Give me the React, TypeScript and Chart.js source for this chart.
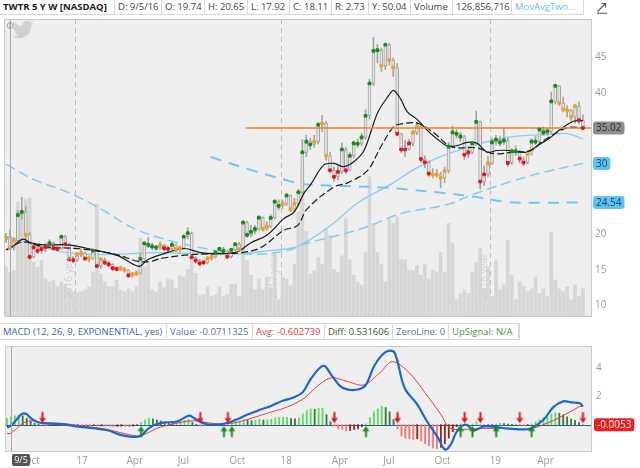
import React, { useEffect, useRef } from 'react';
import { Chart, registerables } from 'chart.js';

Chart.register(...registerables);
Chart.defaults.font.family = "'Open Sans', 'DejaVu Sans', sans-serif";

// ---- weekly candles (week 0 = 8/29/16) ----
const closes = [
  19.56, 18.11, 19.15, 22.76, 23.2, 20.0, 16.86, 18.19, 17.73, 17.96,
  18.27, 18.82, 18.09, 17.96, 19.7, 18.64, 16.5, 16.4, 17.18, 17.4,
  16.63, 16.63, 17.73, 15.58, 16.5, 16.04, 15.8, 15.27, 15.13, 15.27,
  15.03, 14.25, 14.39, 14.53, 16.58, 18.78, 18.55, 18.32, 18.18, 18.5,
  18.09, 18.0, 18.55, 17.96, 18.09, 19.7, 20.2, 16.8, 16.35, 15.94,
  16.08, 16.63, 16.86, 17.45, 18.0, 17.68, 16.9, 17.86, 18.64, 17.91,
  21.7, 19.96, 20.4, 20.8, 22.39, 20.8, 21.16, 22.35, 24.64, 24.04,
  24.3, 25.5, 23.58, 24.35, 25.97, 31.6, 33.1, 32.7, 33.1, 35.47,
  35.7, 31.1, 29.07, 28.15, 28.84, 32.0, 29.07, 31.1, 32.85, 32.8,
  33.7, 36.75, 41.3, 45.9, 46.0, 43.8, 46.76, 44.6, 43.56, 34.2,
  32.0, 32.0, 32.85, 34.4, 35.24, 30.65, 30.2, 28.6, 28.47, 28.47,
  28.0, 28.98, 32.4, 34.4, 34.2, 33.8, 31.26, 31.6, 32.85, 35.9,
  27.47, 28.5, 30.03, 33.0, 33.4, 33.0, 33.27, 30.1, 31.74, 31.74,
  30.7, 30.16, 31.35, 33.1, 33.1, 34.8, 34.4, 34.55, 38.77, 40.96,
  38.57, 37.67, 37.5, 36.6, 38.1, 36.15, 35.02,
];
const opens = [
  19.3, 19.74, 18.11, 19.15, 22.76, 23.2, 20.0, 16.86, 18.19, 17.73,
  17.96, 18.27, 18.82, 18.09, 17.96, 19.7, 18.64, 16.5, 16.4, 17.18,
  17.4, 16.63, 16.63, 17.73, 15.58, 16.5, 16.04, 15.8, 15.27, 15.13,
  15.27, 15.03, 14.25, 14.39, 14.53, 16.58, 18.78, 18.55, 18.32, 18.18,
  18.5, 18.09, 18.0, 18.55, 17.96, 18.09, 19.7, 20.2, 16.8, 16.35,
  15.94, 16.08, 16.63, 16.86, 17.45, 18.0, 17.68, 16.9, 17.86, 18.64,
  17.91, 21.7, 19.96, 20.4, 20.8, 22.39, 20.8, 21.16, 22.35, 24.64,
  24.04, 24.3, 25.5, 23.58, 24.35, 25.97, 31.6, 33.1, 32.7, 33.1,
  35.47, 35.7, 31.1, 29.07, 28.15, 28.84, 32.0, 29.07, 31.1, 32.85,
  32.8, 33.7, 36.75, 41.3, 45.9, 46.0, 43.8, 46.76, 44.6, 43.56,
  34.2, 32.0, 32.0, 32.85, 34.4, 35.24, 30.65, 30.2, 28.6, 28.47,
  28.47, 28.0, 28.98, 32.4, 34.4, 34.2, 33.8, 31.26, 31.6, 32.85,
  35.9, 27.47, 28.5, 30.03, 33.0, 33.4, 33.0, 33.27, 30.1, 31.74,
  31.74, 30.7, 30.16, 31.35, 33.1, 33.1, 34.8, 34.4, 34.55, 38.77,
  40.96, 38.57, 37.67, 37.5, 36.6, 38.1, 36.15,
];
const highs = [
  20.2, 20.65, 19.6, 23.4, 25.25, 24.0, 20.3, 18.6, 18.5, 18.4,
  18.8, 19.3, 19.0, 18.5, 19.9, 19.9, 18.8, 16.9, 17.5, 17.9,
  17.6, 17.0, 18.0, 17.9, 16.8, 16.7, 16.3, 15.9, 15.5, 15.6,
  15.4, 15.1, 14.7, 14.9, 17.3, 18.9, 19.6, 18.8, 18.5, 19.0,
  18.6, 18.4, 18.9, 18.7, 18.4, 20.0, 21.0, 20.4, 16.9, 16.5,
  16.3, 16.9, 17.2, 17.7, 18.1, 18.2, 17.8, 18.0, 18.9, 18.9,
  22.0, 21.9, 21.3, 21.3, 22.6, 22.5, 21.8, 22.8, 24.9, 24.9,
  24.8, 25.8, 25.6, 25.1, 26.4, 33.4, 34.0, 33.6, 34.0, 35.8,
  36.8, 36.0, 31.6, 29.6, 29.7, 32.9, 32.3, 31.6, 33.2, 33.5,
  34.3, 37.6, 41.9, 47.8, 46.8, 46.3, 47.0, 47.0, 44.9, 44.1,
  34.3, 33.3, 33.4, 34.7, 35.9, 35.5, 31.1, 30.4, 29.3, 29.2,
  28.8, 29.5, 33.0, 35.3, 34.8, 34.4, 34.0, 32.4, 33.1, 37.4,
  36.0, 29.7, 31.0, 33.6, 34.0, 33.9, 35.0, 33.6, 32.1, 32.5,
  31.9, 31.0, 31.7, 33.5, 33.9, 35.0, 35.2, 35.0, 40.1, 41.0,
  41.0, 39.4, 38.2, 37.7, 38.4, 38.7, 36.9,
];
const lows = [
  18.9, 17.92, 17.8, 19.0, 22.2, 19.4, 16.5, 16.7, 17.3, 17.4,
  17.6, 18.0, 17.8, 17.7, 17.9, 18.4, 16.3, 16.0, 16.2, 16.9,
  16.4, 16.2, 16.5, 15.4, 15.3, 15.8, 15.5, 14.9, 14.9, 14.9,
  14.7, 14.0, 14.0, 14.2, 14.5, 16.4, 18.2, 17.9, 17.8, 17.9,
  17.7, 17.6, 17.8, 17.6, 17.5, 18.0, 19.4, 16.6, 16.0, 15.7,
  15.7, 15.9, 16.4, 16.7, 17.2, 17.4, 16.6, 16.7, 17.7, 17.6,
  17.8, 19.6, 19.7, 20.1, 20.6, 20.5, 20.6, 21.0, 22.2, 23.5,
  23.7, 24.1, 23.2, 23.3, 24.0, 25.8, 31.0, 32.0, 32.3, 32.8,
  34.5, 30.5, 28.7, 27.5, 27.7, 28.6, 28.6, 29.0, 30.8, 32.3,
  32.5, 33.4, 36.3, 41.0, 44.2, 43.0, 43.3, 43.9, 42.3, 33.9,
  31.6, 31.0, 31.9, 32.5, 34.1, 30.2, 29.4, 28.2, 28.0, 28.1,
  26.6, 27.3, 28.7, 32.2, 33.6, 33.1, 30.6, 30.8, 31.4, 32.6,
  26.4, 26.9, 28.2, 29.9, 32.6, 32.5, 32.7, 29.6, 29.9, 31.2,
  30.1, 29.7, 30.0, 31.2, 32.7, 32.9, 34.0, 34.0, 34.3, 38.4,
  38.2, 37.3, 36.6, 36.1, 35.7, 35.6, 34.8,
];
// millions of shares
const volumes = [
  143, 127, 134, 330, 297, 339, 342, 157, 143, 162,
  110, 101, 106, 87, 101, 92, 81, 73, 70, 73,
  78, 87, 129, 325, 123, 101, 87, 87, 106, 78,
  73, 81, 73, 87, 227, 143, 157, 78, 73, 101,
  84, 109, 106, 81, 118, 115, 137, 188, 126, 62,
  64, 87, 59, 64, 87, 59, 64, 95, 95, 59,
  190, 162, 120, 78, 109, 78, 115, 84, 185, 50,
  115, 109, 90, 151, 302, 428, 246, 123, 134, 171,
  151, 255, 235, 137, 129, 176, 283, 165, 120, 101,
  92, 185, 403, 269, 185, 151, 101, 283, 269, 288,
  165, 165, 134, 134, 148, 120, 151, 109, 134, 129,
  185, 129, 269, 213, 50, 67, 78, 67, 129, 157,
  199, 81, 143, 59, 162, 78, 92, 221, 120, 50,
  101, 87, 73, 81, 115, 67, 81, 59, 244, 106,
  81, 73, 87, 50, 92, 59, 81,
];
// close-dot signal colour per week: G green, O orange, R red
const dotCodes = (
  'OOOGGORRRR' + 'RGRRGRRROO' + 'ROGRORRRRO' + 'OROOGGGGGO' + 'RRGOOGGRRR' +
  'ROOGGGRGGO' + 'GGGGGOOGGG' + 'OGOOGGGGOG' + 'OORRRGRGGG' + 'GGGGGOGOOR' +
  'RRROORRROO' + 'OOGGGGRRGG' + 'RROGGGGRGG' + 'RROGGGGGGG' + 'OOOOORR'
).split('');

// ---- moving averages, read at key weeks ----
const ma50Weeks = [0, 7, 15.6, 24, 39, 49, 59.4, 66, 72.8, 74.6, 77.8, 82.9, 89, 98, 103, 110, 118.3, 126.8, 137.7, 142, 146];
const ma50Values = [19.8, 18.6, 17.45, 17.2, 17.45, 17.3, 17.3, 17.7, 18.15, 18.55, 19.6, 21.6, 24.45, 27.3, 29.1, 31.0, 32.55, 33.7, 34.15, 34.24, 33.5];
const ma100Weeks = [0, 7.1, 15.7, 24, 32.3, 40.9, 49.3, 57.6, 64.4, 72, 74.6, 82.9, 91.4, 99.8, 112, 118.3, 126.8, 135.2, 146];
const ma100Values = [29.93, 27.75, 25.96, 23.63, 20.88, 19.24, 18.14, 17.45, 17.25, 17.86, 18.55, 19.74, 21.1, 22.94, 24.3, 25.7, 27.3, 28.67, 30.04];
const ma200Weeks = [51.8, 61.9, 72, 74.6, 80, 87.2, 97.3, 101.5, 110, 120, 126.8, 136, 146];
const ma200Values = [30.94, 29.12, 27.51, 27.16, 26.95, 26.83, 26.6, 26.37, 25.92, 25.23, 24.6, 24.5, 24.54];
const fastWeeks = [0, 1.3, 4.3, 6.3, 9.6, 15.7, 22.2, 28.3, 33.6, 35.9, 39.2, 45, 49.3, 53.5, 58.6, 61.9, 66.1, 70.3, 72.9, 75.5, 77.1, 80.4, 83, 85.5, 88, 90.6, 94, 96.9, 98.1, 99.9, 101.5, 104.1, 106.6, 109.2, 111.7, 114.2, 116.7, 119.2, 121.7, 124.3, 127.6, 131.8, 135.2, 137.7, 140.3, 143.6, 146];
const fastValues = [17.86, 18.14, 19.37, 18.83, 18.55, 18.55, 17.86, 17.04, 15.53, 16.49, 17.18, 18.04, 17.45, 17.32, 17.59, 18.83, 19.96, 22.26, 23.18, 25.92, 27.06, 29.8, 30.04, 29.57, 30.26, 31.86, 37.12, 39.65, 40.33, 39.1, 37.35, 36.2, 34.7, 33.45, 32.5, 32.55, 33.0, 32.87, 31.63, 31.86, 31.86, 31.63, 32.78, 33.65, 34.84, 35.98, 36.08];
const slowWeeks = [0, 4.3, 9.6, 19, 25.8, 29, 33.4, 36.6, 39.2, 44.2, 49.3, 54.3, 59.4, 64.4, 70.3, 73.8, 76.2, 83, 86.4, 91.4, 94.8, 98.1, 99.8, 104, 108.2, 112, 114.2, 119.2, 123.4, 128.5, 132.7, 136, 142, 146];
const slowValues = [17.86, 18.96, 18.28, 18.0, 17.45, 17.04, 16.22, 16.22, 16.63, 17.04, 17.25, 17.32, 17.45, 18.14, 20.61, 21.3, 23.63, 26.72, 27.29, 28.98, 32.32, 35.23, 35.57, 35.71, 34.38, 32.55, 32.23, 32.23, 31.41, 31.63, 31.86, 33.24, 35.06, 35.06];
const hlineValue = 35.02;
const hlineStartWeek = 60.7;

// ---- MACD (12, 26, 9) ----
const macdWeeks = [0, 1, 2, 3, 4, 5, 6, 7, 8, 11, 14, 17, 19.4, 22.5, 25.5, 28.7, 31.7, 33.8, 35.9, 37.9, 39.9, 43.1, 46.2, 47.7, 50.3, 53.4, 56, 58, 60.7, 63.7, 66.8, 69.9, 73, 75, 77.1, 80.2, 82.3, 84.4, 86.4, 89.5, 91, 93.1, 95.2, 96.7, 98.3, 100.8, 103.9, 106.5, 109.3, 111, 112.4, 114.2, 116.3, 118.4, 121, 124, 126.6, 130.6, 132.8, 136, 138.5, 141, 143.1, 145.2, 146];
const macdValues = [-0.2, -0.07, 0.2, 0.55, 0.78, 0.74, 0.45, 0.3, 0.15, 0.06, 0.04, -0.11, -0.18, -0.27, -0.4, -0.72, -0.86, -0.81, -0.27, 0.04, 0.15, 0.22, 0.63, 0.4, 0.04, 0, 0.13, 0.34, 0.67, 1.0, 1.3, 1.68, 1.95, 2.29, 3.25, 4.15, 3.47, 2.73, 2.46, 2.51, 2.8, 4.15, 4.94, 5.2, 5.05, 2.58, 1.46, 0.22, -0.95, -1.75, -1.45, -0.4, 0, -0.4, -0.11, -0.18, -0.27, -0.34, -0.27, 0.34, 1.23, 1.64, 1.57, 1.5, 1.28];
const signalWeeks = [0, 1, 4.9, 9.1, 14.2, 19.4, 25.5, 29.7, 33.8, 37.9, 42, 47.2, 52.3, 56.5, 60.7, 65.7, 70.9, 75, 79.1, 82.3, 86.4, 90.5, 94.7, 97.7, 101.8, 106, 110.1, 112.2, 115.2, 120.4, 126.6, 131.8, 136, 141, 145.2, 146];
const signalValues = [-0.62, -0.6, 0.22, 0.15, 0.08, -0.11, -0.34, -0.63, -0.79, -0.27, 0.04, 0.27, 0.08, 0.08, 0.34, 0.78, 1.23, 1.8, 2.8, 3.3, 3.03, 2.8, 3.7, 4.44, 3.7, 2.24, 0.67, -0.23, -0.34, -0.27, -0.27, -0.34, 0, 0.63, 1.28, 1.29];
const histValues = [
  0.42, 0.53, 0.62, 0.68, 0.62, 0.45, 0.25, 0.1, 0.03, -0.04,
  -0.06, -0.05, -0.04, -0.03, -0.03, -0.04, -0.06, -0.08, -0.07, -0.07,
  -0.08, -0.08, -0.07, -0.1, -0.09, -0.1, -0.12, -0.14, -0.13, -0.11,
  -0.12, -0.14, -0.1, -0.04, 0.15, 0.33, 0.45, 0.4, 0.34, 0.26,
  0.18, 0.15, 0.12, 0.14, 0.2, 0.3, 0.36, 0.15, 0.03, -0.1,
  -0.1, -0.08, -0.06, -0.05, -0.02, 0.03, -0.02, 0.08, 0.2, 0.2,
  0.35, 0.3, 0.28, 0.3, 0.38, 0.32, 0.32, 0.38, 0.48, 0.5,
  0.5, 0.52, 0.42, 0.4, 0.45, 0.75, 1.0, 1.1, 1.08, 1.15,
  1.15, 0.7, 0.2, -0.1, -0.3, -0.35, -0.45, -0.42, -0.35, -0.3,
  -0.15, 0.05, 0.5, 0.9, 1.1, 1.3, 1.2, 0.9, 0.35, -0.3,
  -0.8, -0.95, -1.0, -1.05, -1.0, -1.15, -1.35, -1.5, -1.65, -1.7,
  -1.6, -1.35, -0.95, -0.5, -0.15, 0.05, -0.05, -0.1, 0.05, 0.2,
  -0.05, -0.2, -0.15, -0.03, 0.05, 0.1, 0.08, 0.03, 0.02, 0.02,
  -0.03, -0.06, -0.05, 0.05, 0.2, 0.35, 0.5, 0.55, 0.75, 0.85,
  0.8, 0.7, 0.55, 0.4, 0.3, 0.15, -0.0053,
];
const upArrowWeeks = [34, 55, 57, 91, 115, 118, 124, 133];
const downArrowWeeks = [9, 49, 56, 83, 99, 116, 120, 130, 146];

// ---- axis text ----
const tickWeeks = [6.3, 19, 32.4, 44.7, 58.4, 70.8, 84.4, 96.8, 110.4, 123.8, 136.5];
const tickLabels = ['Oct', '17', 'Apr', 'Jul', 'Oct', '18', 'Apr', 'Jul', 'Oct', '19', 'Apr'];
const yearLineWeeks = [17.4, 69.5, 122.6];
const yearLabels = ['2016 year', '2017 year', '2018 year'];
const priceTicks = [10, 15, 20, 40, 45];
const macdTicks = [2, 4];
const hoverWeek = 1;
const hoverLabel = '9/5';

const headerCells = [
  { t: 'TWTR 5 Y W [NASDAQ]', w: 115, c: '#222', b: true },
  { t: 'D: 9/5/16', w: 47, c: '#444' },
  { t: 'O: 19.74', w: 43, c: '#444' },
  { t: 'H: 20.65', w: 43, c: '#444' },
  { t: 'L: 17.92', w: 42, c: '#444' },
  { t: 'C: 18.11', w: 42, c: '#444' },
  { t: 'R: 2.73', w: 37, c: '#444' },
  { t: 'Y: 50.04', w: 42, c: '#444' },
  { t: 'Volume', w: 42, c: '#444' },
  { t: '126,856,716', w: 59, c: '#444' },
  { t: 'MovAvgTwo...', w: 72, c: '#6cbdf0' },
];
const macdCells = [
  { t: 'MACD (12, 26, 9, EXPONENTIAL, yes)', w: 167, c: '#3565ad' },
  { t: 'Value: -0.0711325', w: 86, c: '#4f70a6' },
  { t: 'Avg: -0.602739', w: 72, c: '#e0393a' },
  { t: 'Diff: 0.531606', w: 68, c: '#2a5f2a' },
  { t: 'ZeroLine: 0', w: 56, c: '#4f70a6' },
  { t: 'UpSignal: N/A', w: 70, c: '#3d9a3d' },
];

const X_MIN = -0.5;
const X_MAX = 148.3;
const DOT = { G: '#178c1a', O: '#f2a024', R: '#e8141c' } as Record<string, string>;

const pairs = (ws: number[], vs: number[]) => ws.map((w, i) => ({ x: w, y: vs[i] }));

function makeArrow(up: boolean): HTMLCanvasElement {
  const c = document.createElement('canvas');
  c.width = 9;
  c.height = 28;
  const g = c.getContext('2d')!;
  g.fillStyle = up ? '#168a16' : '#e3161c';
  const cx = 4.5;
  if (up) {
    const tip = 15.5;
    g.beginPath(); g.moveTo(cx, tip); g.lineTo(cx + 3.5, tip + 5); g.lineTo(cx - 3.5, tip + 5); g.closePath(); g.fill();
    g.fillRect(cx - 1, tip + 4, 2, 7);
  } else {
    const tip = 12.5;
    g.beginPath(); g.moveTo(cx, tip); g.lineTo(cx + 3.5, tip - 5); g.lineTo(cx - 3.5, tip - 5); g.closePath(); g.fill();
    g.fillRect(cx - 1, tip - 11, 2, 7);
  }
  return c;
}

function roundRect(ctx: CanvasRenderingContext2D, x: number, y: number, w: number, h: number, r: number) {
  ctx.beginPath();
  ctx.moveTo(x + r, y);
  ctx.lineTo(x + w - r, y); ctx.quadraticCurveTo(x + w, y, x + w, y + r);
  ctx.lineTo(x + w, y + h - r); ctx.quadraticCurveTo(x + w, y + h, x + w - r, y + h);
  ctx.lineTo(x + r, y + h); ctx.quadraticCurveTo(x, y + h, x, y + h - r);
  ctx.lineTo(x, y + r); ctx.quadraticCurveTo(x, y, x + r, y);
  ctx.closePath();
}

function valueBox(ctx: CanvasRenderingContext2D, x: number, y: number, text: string, bg: string, fg: string) {
  ctx.save();
  ctx.font = "10px 'Open Sans', sans-serif";
  const w = ctx.measureText(text).width + 6;
  roundRect(ctx, x, y - 6.5, w, 13, 3);
  ctx.fillStyle = bg;
  ctx.fill();
  ctx.fillStyle = fg;
  ctx.textBaseline = 'middle';
  ctx.textAlign = 'left';
  ctx.fillText(text, x + 3, y + 0.5);
  ctx.restore();
}

const panelPlugin = {
  id: 'panel',
  beforeDraw(chart: any) {
    const { ctx, chartArea: a } = chart;
    ctx.save();
    ctx.fillStyle = '#ffffff';
    ctx.fillRect(0, 0, chart.width, chart.height);
    ctx.fillStyle = '#efefef';
    ctx.fillRect(a.left, a.top, a.right - a.left, a.bottom - a.top);
    ctx.restore();
  },
  afterDatasetsDraw(chart: any) {
    const { ctx, chartArea: a, scales } = chart;
    const x = Math.round(scales.x.getPixelForValue(hoverWeek)) + 0.5;
    ctx.save();
    ctx.strokeStyle = '#a8a8a8';
    ctx.lineWidth = 1;
    ctx.beginPath(); ctx.moveTo(x, a.top); ctx.lineTo(x, a.bottom); ctx.stroke();
    ctx.strokeStyle = '#cbcbcb';
    ctx.strokeRect(a.left + 0.5, a.top + 0.5, a.right - a.left - 1, a.bottom - a.top - 1);
    ctx.restore();
  },
};

const pricePlugin = {
  id: 'priceExtras',
  beforeDatasetsDraw(chart: any) {
    const { ctx, chartArea: a, scales } = chart;
    ctx.save();
    ctx.strokeStyle = '#bdbdbd';
    ctx.lineWidth = 1;
    ctx.setLineDash([5, 4]);
    yearLineWeeks.forEach((w) => {
      const x = Math.round(scales.x.getPixelForValue(w)) + 0.5;
      ctx.beginPath(); ctx.moveTo(x, a.top); ctx.lineTo(x, a.bottom); ctx.stroke();
    });
    ctx.setLineDash([]);
    ctx.restore();
  },
  afterDatasetsDraw(chart: any) {
    const { ctx, chartArea: a, scales } = chart;
    ctx.save();
    ctx.fillStyle = 'rgba(200,200,200,0.75)';
    ctx.font = "10px 'Open Sans', sans-serif";
    ctx.textBaseline = 'middle';
    ctx.textAlign = 'left';
    yearLineWeeks.forEach((w, i) => {
      const x = scales.x.getPixelForValue(w) - 6;
      ctx.save();
      ctx.translate(x, a.bottom - 18);
      ctx.rotate(-Math.PI / 2);
      ctx.fillText(yearLabels[i], 0, 0);
      ctx.restore();
    });
    ctx.restore();
  },
  afterDraw(chart: any) {
    const { ctx, chartArea: a, scales } = chart;
    const y = scales.y;
    valueBox(ctx, a.right + 1, y.getPixelForValue(closes[closes.length - 1]), closes[closes.length - 1].toFixed(2), '#8f8f8f', '#2c2c2c');
    valueBox(ctx, a.right + 1, y.getPixelForValue(ma100Values[ma100Values.length - 1]), '30', '#5cc3f3', '#13476a');
    valueBox(ctx, a.right + 1, y.getPixelForValue(ma200Values[ma200Values.length - 1]), ma200Values[ma200Values.length - 1].toFixed(2), '#5cc3f3', '#13476a');
  },
};

const macdPlugin = {
  id: 'macdExtras',
  beforeDatasetsDraw(chart: any) {
    const { ctx, chartArea: a, scales } = chart;
    const y = Math.round(scales.y.getPixelForValue(0)) + 0.5;
    ctx.save();
    ctx.strokeStyle = '#2d5c8c';
    ctx.lineWidth = 1;
    ctx.beginPath(); ctx.moveTo(a.left, y); ctx.lineTo(a.right, y); ctx.stroke();
    ctx.restore();
  },
  afterDraw(chart: any) {
    const { ctx, chartArea: a, scales } = chart;
    const last = histValues[histValues.length - 1];
    valueBox(ctx, a.right + 2, scales.y.getPixelForValue(last), last.toFixed(4), '#f01d1d', '#ffffff');
    const x = Math.round(scales.x.getPixelForValue(hoverWeek)) + 1;
    ctx.save();
    roundRect(ctx, x, a.bottom + 2, 18, 12, 2);
    ctx.fillStyle = '#555555';
    ctx.fill();
    ctx.fillStyle = '#ffffff';
    ctx.font = "9px 'Open Sans', sans-serif";
    ctx.textAlign = 'center';
    ctx.textBaseline = 'middle';
    ctx.fillText(hoverLabel, x + 9, a.bottom + 8.5);
    ctx.restore();
  },
};

const rightAxisFit = (s: any) => {
  s.width = 48;
  s.paddingTop = 0;
  s.paddingBottom = 0;
};

export default function App() {
  const priceRef = useRef<HTMLCanvasElement>(null);
  const macdRef = useRef<HTMLCanvasElement>(null);

  useEffect(() => {
    const idx = closes.map((_, i) => i);
    const lineDs = (data: any[], color: string, width: number, dash: number[], order: number) => ({
      type: 'line' as const,
      yAxisID: 'y',
      data,
      borderColor: color,
      borderWidth: width,
      borderDash: dash,
      pointRadius: 0,
      tension: 0.35,
      fill: false,
      order,
    });

    const price = new Chart(priceRef.current!, {
      type: 'bar',
      data: {
        datasets: [
          {
            type: 'bar',
            yAxisID: 'vol',
            data: volumes.map((v, i) => ({ x: i, y: v })),
            backgroundColor: '#d6d6d6',
            barThickness: 3,
            grouped: false,
            order: 20,
          } as any,
          lineDs(pairs(ma100Weeks, ma100Values), '#80cbf3', 1.5, [10, 5], 9),
          lineDs(pairs(ma200Weeks, ma200Values), '#72c6f3', 2, [11, 8], 9),
          lineDs(pairs(ma50Weeks, ma50Values), '#86cdf4', 1.3, [], 9),
          {
            type: 'bar',
            yAxisID: 'y',
            data: idx.map((i) => ({ x: i, y: [lows[i], highs[i]] })),
            backgroundColor: '#a3a3a3',
            barThickness: 1,
            grouped: false,
            order: 6,
          } as any,
          {
            type: 'bar',
            yAxisID: 'y',
            data: idx.map((i) => ({ x: i, y: [opens[i], closes[i]] })),
            backgroundColor: '#e6e6e6',
            borderColor: '#a3a3a3',
            borderWidth: 1,
            borderSkipped: false,
            barThickness: 3,
            grouped: false,
            order: 5,
          } as any,
          lineDs(pairs(slowWeeks, slowValues), '#1c1c1c', 1.2, [7, 3], 4),
          lineDs(pairs(fastWeeks, fastValues), '#1c1c1c', 1.2, [], 4),
          lineDs([{ x: hlineStartWeek, y: hlineValue }, { x: X_MAX, y: hlineValue }], '#e8862a', 1.6, [], 3),
          {
            type: 'line',
            yAxisID: 'y',
            data: idx.map((i) => ({ x: i, y: closes[i] })),
            showLine: false,
            pointRadius: 2.1,
            pointBorderWidth: 0,
            pointBackgroundColor: dotCodes.map((c) => DOT[c]),
            order: 1,
          } as any,
        ],
      },
      options: {
        responsive: false,
        maintainAspectRatio: false,
        animation: false,
        events: [],
        layout: { padding: { left: 3, right: 0, top: 0, bottom: 0 } },
        plugins: { legend: { display: false }, tooltip: { enabled: false } },
        scales: {
          x: { type: 'linear', min: X_MIN, max: X_MAX, display: false, offset: false, grid: { offset: false } },
          y: {
            type: 'linear',
            position: 'right',
            min: 8.39,
            max: 50.39,
            grid: { display: false, drawTicks: false },
            border: { display: false },
            ticks: { color: '#9b9b9b', font: { size: 10 }, padding: 3, callback: (v: any) => String(v) },
            afterBuildTicks: (s: any) => { s.ticks = priceTicks.map((v) => ({ value: v })); },
            afterFit: rightAxisFit,
          },
          vol: { type: 'linear', display: false, min: 0, max: 857 },
        },
      } as any,
      plugins: [panelPlugin, pricePlugin],
    });

    const up = makeArrow(true);
    const down = makeArrow(false);
    const histColor = (ctx: any) => {
      const i = ctx.dataIndex;
      const v = histValues[i];
      const p = i > 0 ? histValues[i - 1] : v;
      if (v >= 0) return v >= p ? '#63d963' : '#3d7a3d';
      return v <= p ? '#f27a7a' : '#8a2a2a';
    };

    const macd = new Chart(macdRef.current!, {
      type: 'bar',
      data: {
        datasets: [
          {
            type: 'bar',
            data: histValues.map((v, i) => ({ x: i, y: v })),
            backgroundColor: histColor,
            barThickness: 1.2,
            grouped: false,
            order: 10,
          } as any,
          lineDs(pairs(signalWeeks, signalValues), '#e2403c', 1, [], 4),
          lineDs(pairs(macdWeeks, macdValues), '#1a67cf', 2.2, [], 3),
          {
            type: 'line',
            data: upArrowWeeks.map((w) => ({ x: w, y: 0 })),
            showLine: false,
            pointStyle: up,
            order: 1,
          } as any,
          {
            type: 'line',
            data: downArrowWeeks.map((w) => ({ x: w, y: 0 })),
            showLine: false,
            pointStyle: down,
            order: 1,
          } as any,
        ],
      },
      options: {
        responsive: false,
        maintainAspectRatio: false,
        animation: false,
        events: [],
        layout: { padding: { left: 3, right: 0, top: 0, bottom: 0 } },
        plugins: { legend: { display: false }, tooltip: { enabled: false } },
        scales: {
          x: {
            type: 'linear',
            min: X_MIN,
            max: X_MAX,
            offset: false,
            grid: { display: false, drawTicks: false, offset: false },
            border: { display: false },
            ticks: {
              color: '#9b9b9b',
              font: { size: 10 },
              padding: 3,
              autoSkip: false,
              maxRotation: 0,
              callback: (_v: any, i: number) => tickLabels[i],
            },
            afterBuildTicks: (s: any) => { s.ticks = tickWeeks.map((v) => ({ value: v })); },
            afterFit: (s: any) => { s.height = 16; s.paddingLeft = 0; s.paddingRight = 0; },
          },
          y: {
            type: 'linear',
            position: 'right',
            min: -1.93,
            max: 5.54,
            grid: { display: false, drawTicks: false },
            border: { display: false },
            ticks: { color: '#9b9b9b', font: { size: 10 }, padding: 4, callback: (v: any) => String(v) },
            afterBuildTicks: (s: any) => { s.ticks = macdTicks.map((v) => ({ value: v })); },
            afterFit: rightAxisFit,
          },
        },
      } as any,
      plugins: [panelPlugin, macdPlugin],
    });

    return () => {
      price.destroy();
      macd.destroy();
    };
  }, []);

  const cellStyle = (w: number, c: string, b?: boolean): React.CSSProperties => ({
    width: w,
    boxSizing: 'border-box',
    borderRight: '1px solid #d9d9d9',
    paddingLeft: 3,
    color: c,
    fontWeight: b ? 700 : 400,
    whiteSpace: 'nowrap',
    overflow: 'hidden',
  });

  return (
    <div
      style={{
        position: 'fixed',
        left: 0,
        top: 0,
        width: 640,
        height: 468,
        background: '#ffffff',
        overflow: 'hidden',
        fontFamily: "'Open Sans', sans-serif",
      }}
    >
      <div
        style={{
          position: 'absolute', left: 0, top: 0, height: 15, display: 'flex',
          fontSize: 9.5, lineHeight: '14px', borderBottom: '1px solid #d9d9d9', boxSizing: 'border-box',
        }}
      >
        {headerCells.map((h, i) => (
          <div key={i} style={cellStyle(h.w, h.c, h.b)}>{h.t}</div>
        ))}
      </div>
      <svg style={{ position: 'absolute', left: 596, top: 2 }} width="12" height="12" viewBox="0 0 12 12">
        <path d="M1.5 9.5 L9.5 1.5 M5.5 1.5 L9.5 1.5 L9.5 5.5 M1 11.2 L11 11.2" stroke="#555" strokeWidth="1.1" fill="none" />
      </svg>
      <canvas
        ref={priceRef}
        width={640}
        height={306}
        style={{ position: 'absolute', left: 0, top: 15, width: 640, height: 306 }}
      />
      <svg style={{ position: 'absolute', left: 11, top: 18, pointerEvents: 'none' }} width="23" height="23" viewBox="0 0 24 24">
        <path
          fill="#cdd1d4"
          d="M23.643 4.937c-.835.37-1.732.62-2.675.733.962-.576 1.7-1.49 2.048-2.578-.9.534-1.897.922-2.958 1.13-.85-.904-2.06-1.47-3.4-1.470-2.572 0-4.658 2.086-4.658 4.66 0 .364.042.718.12 1.06-3.873-.195-7.304-2.05-9.602-4.868-.4.69-.63 1.49-.63 2.342 0 1.616.823 3.043 2.072 3.878-.764-.025-1.482-.234-2.11-.583v.06c0 2.257 1.605 4.14 3.737 4.568-.392.106-.803.162-1.227.162-.3 0-.593-.028-.877-.082.593 1.85 2.313 3.198 4.352 3.234-1.595 1.25-3.604 1.995-5.786 1.995-.376 0-.747-.022-1.112-.065 2.062 1.323 4.51 2.093 7.14 2.093 8.57 0 13.255-7.098 13.255-13.254 0-.2-.005-.402-.014-.602.91-.658 1.7-1.477 2.323-2.41z"
        />
      </svg>
      <svg style={{ position: 'absolute', left: 6, top: 21, pointerEvents: 'none' }} width="8" height="9" viewBox="0 0 8 9">
        <circle cx="4" cy="4.5" r="2.8" stroke="#9a9a9a" strokeWidth="0.9" fill="none" />
        <path d="M4 0.5 L4 8.5" stroke="#9a9a9a" strokeWidth="0.9" />
      </svg>
      <div
        style={{
          position: 'absolute', left: 0, top: 323, height: 17, display: 'flex',
          fontSize: 9.5, lineHeight: '15px', border: '1px solid #d9d9d9', borderLeft: 'none', boxSizing: 'border-box',
        }}
      >
        {macdCells.map((h, i) => (
          <div key={i} style={cellStyle(h.w, h.c)}>{h.t}</div>
        ))}
      </div>
      <canvas
        ref={macdRef}
        width={640}
        height={127}
        style={{ position: 'absolute', left: 0, top: 341, width: 640, height: 127 }}
      />
    </div>
  );
}
